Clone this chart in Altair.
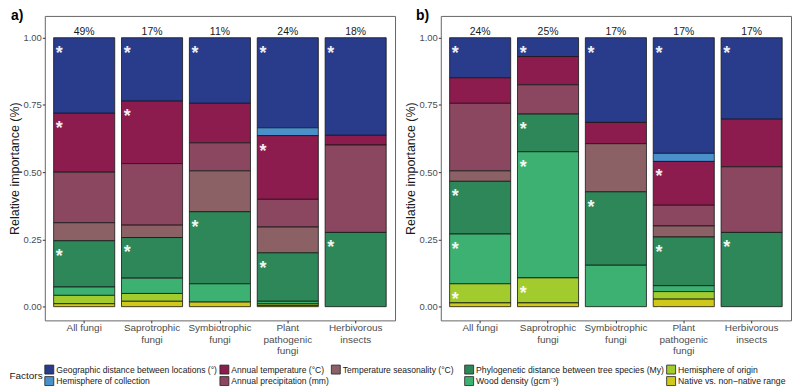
import altair as alt
import pandas as pd

groups = ["All fungi", "Saprotrophic\nfungi", "Symbiotrophic\nfungi",
          "Plant\npathogenic\nfungi", "Herbivorous\ninsects"]

factors = ["Geographic distance between locations (°)", "Hemisphere of collection",
           "Annual temperature (°C)", "Annual precipitation (mm)",
           "Temperature seasonality (°C)",
           "Phylogenetic distance between tree species (My)",
           "Wood density (gcm⁻³)", "Hemisphere of origin",
           "Native vs. non−native range"]

colors = ["#293B8B", "#4A90CB", "#8B1C4D", "#8A475F", "#8B6166",
          "#2D8758", "#3DB172", "#A2CC2E", "#D0C81A"]

# panel a: relative importance per factor (same order as factors), per group
a_values = {
    factors[0]: [0.281, 0.236, 0.244, 0.335, 0.363],
    factors[1]: [0.000, 0.000, 0.000, 0.029, 0.000],
    factors[2]: [0.219, 0.232, 0.147, 0.237, 0.036],
    factors[3]: [0.188, 0.229, 0.104, 0.103, 0.325],
    factors[4]: [0.067, 0.046, 0.152, 0.096, 0.000],
    factors[5]: [0.172, 0.151, 0.268, 0.180, 0.276],
    factors[6]: [0.031, 0.057, 0.068, 0.010, 0.000],
    factors[7]: [0.031, 0.029, 0.000, 0.006, 0.000],
    factors[8]: [0.011, 0.020, 0.017, 0.004, 0.000],
}
a_pct = ["49%", "17%", "11%", "24%", "18%"]
a_stars = [[0, 2, 5], [0, 2, 5], [0, 5], [0, 2, 5], [0, 5]]

# panel b
b_values = {
    factors[0]: [0.149, 0.070, 0.315, 0.430, 0.303],
    factors[1]: [0.000, 0.000, 0.000, 0.030, 0.000],
    factors[2]: [0.095, 0.105, 0.079, 0.163, 0.177],
    factors[3]: [0.251, 0.109, 0.000, 0.077, 0.244],
    factors[4]: [0.039, 0.000, 0.179, 0.041, 0.000],
    factors[5]: [0.196, 0.140, 0.273, 0.181, 0.276],
    factors[6]: [0.185, 0.469, 0.154, 0.022, 0.000],
    factors[7]: [0.071, 0.093, 0.000, 0.028, 0.000],
    factors[8]: [0.014, 0.014, 0.000, 0.028, 0.000],
}
b_pct = ["24%", "25%", "17%", "17%", "17%"]
b_stars = [[0, 5, 6, 7], [0, 5, 6, 7], [0, 5], [0, 2, 5, 8], [0, 5]]

y_ticks = [0, 0.25, 0.5, 0.75, 1.0]

# two legends (filled column by column, like the original)
leg1 = factors[0:5]
leg2 = factors[5:9]
col1 = colors[0:5]
col2 = colors[5:9]

FONT = "Liberation Sans"


def make_df(values, stars):
    rows = []
    for gi, g in enumerate(groups):
        for fi, f in enumerate(factors):
            rows.append({"group": g, "factor": f, "value": values[f][gi],
                         "order": fi, "star": fi in stars[gi]})
    return pd.DataFrame(rows)


def panel(values, stars, pct, label, title_dx):
    df = make_df(values, stars)
    pct_df = pd.DataFrame({"group": groups, "pct": pct})
    x = alt.X("group:N", sort=groups,
              scale=alt.Scale(domain=groups, paddingInner=0.1, paddingOuter=0.13),
              axis=alt.Axis(title=None, labelAngle=0,
                            labelExpr="split(datum.label, '\\n')",
                            labelLineHeight=11.5, labelPadding=0,
                            labelFontSize=10))
    yscale = alt.Scale(domain=[-0.051, 1.081], nice=False, zero=False)
    y = alt.Y("y0:Q", scale=yscale,
              axis=alt.Axis(title="Relative importance (%)", values=y_ticks,
                            format=".2f", titlePadding=1, labelPadding=1))
    base = (alt.Chart(df)
            .transform_filter("datum.value > 0")
            .transform_stack(stack="value", groupby=["group"], as_=["y0", "y1"],
                             sort=[alt.SortField("order", order="descending")]))
    bars1 = (base.transform_filter(alt.FieldOneOfPredicate(field="factor", oneOf=leg1))
             .mark_bar(stroke="#151515", strokeWidth=0.8)
             .encode(x=x, y=y, y2="y1:Q",
                     color=alt.Color("factor:N",
                                     scale=alt.Scale(domain=leg1, range=col1),
                                     legend=alt.Legend(title="Factors", columns=3,
                                                       orient="none", legendX=-35.5,
                                                       legendY=350,
                                                       columnPadding=0,
                                                       labelFontSize=8.6,
                                                       titleOrient="left",
                                                       titleAnchor="middle",
                                                       titleBaseline="middle"))))
    bars2 = (base.transform_filter(alt.FieldOneOfPredicate(field="factor", oneOf=leg2))
             .mark_bar(stroke="#151515", strokeWidth=0.8)
             .encode(x=x, y=y, y2="y1:Q",
                     fill=alt.Fill("factor:N",
                                   scale=alt.Scale(domain=leg2, range=col2),
                                   legend=alt.Legend(title=None, columns=2,
                                                     orient="none", legendX=421.5,
                                                     legendY=350,
                                                     columnPadding=0,
                                                     labelFontSize=8.7))))
    starl = (base.transform_filter("datum.star")
             .mark_text(text="*", font=FONT, fontSize=18, fontWeight="bold",
                        color="white", opacity=0.92, baseline="alphabetic",
                        dx=-25, dy=21)
             .encode(x=x, y=alt.Y("y1:Q", scale=yscale)))
    pctl = (alt.Chart(df)
            .transform_aggregate(total="sum(value)", groupby=["group"])
            .transform_lookup(lookup="group",
                              from_=alt.LookupData(data=pct_df, key="group",
                                                   fields=["pct"]))
            .mark_text(font=FONT, fontSize=10.5, color="#1a1a1a",
                       baseline="alphabetic", dy=-3)
            .encode(x=x, y=alt.Y("total:Q", scale=yscale), text="pct:N"))
    return alt.layer(bars1, bars2, starl, pctl).properties(
        width=352, height=306,
        title=alt.TitleParams(label, anchor="start", frame="bounds", fontSize=14,
                              fontWeight="bold", font=FONT, offset=-7.5, dx=title_dx))


pa = panel(a_values, a_stars, a_pct, "a)", 2)
pb = panel(b_values, b_stars, b_pct, "b)", 11)

chart = (alt.hconcat(pa, pb, spacing=8)
         .properties(padding={"left": 0, "top": 0, "right": 0, "bottom": 0})
         .configure_view(stroke="#666666", strokeWidth=1)
         .configure_axis(labelFont=FONT, labelFontSize=9.5, labelColor="#4D4D4D",
                         tickColor="#333333", tickSize=2.5, domain=False, grid=False,
                         titleFont=FONT, titleFontSize=12.5, titleFontWeight="normal",
                         titleColor="#1a1a1a")
         .configure_legend(labelFont=FONT, labelFontSize=8.8, labelColor="#1a1a1a",
                           labelLimit=400,
                           titleFont=FONT, titleFontSize=10, titleFontWeight="normal",
                           titleColor="#1a1a1a", symbolType="square", symbolSize=81,
                           symbolStrokeColor="#222222", symbolStrokeWidth=0.8,
                           symbolOpacity=1, rowPadding=-2,
                           labelOffset=2, titlePadding=1))

chart.save("out.html", embed_options={"renderer": "svg", "actions": False})
